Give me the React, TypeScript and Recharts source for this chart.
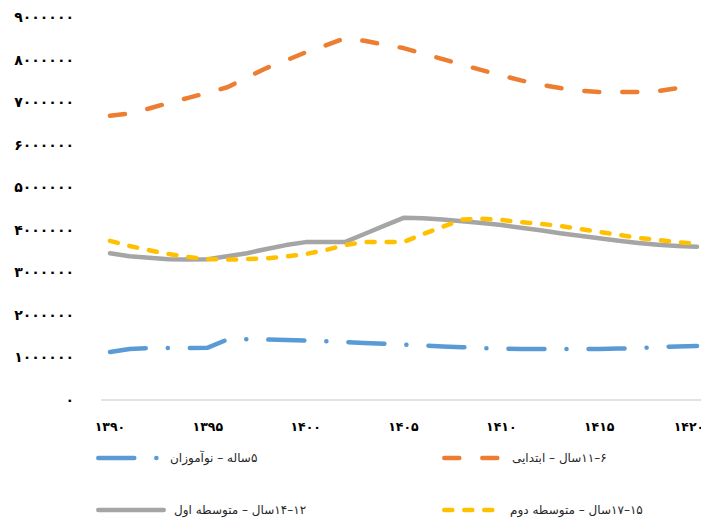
import { LineChart, Line, XAxis, YAxis, Legend } from 'recharts';

// سال‌ها (هجری شمسی)
const years = [
  1390, 1391, 1392, 1393, 1394, 1395, 1396, 1397, 1398, 1399, 1400,
  1401, 1402, 1403, 1404, 1405, 1406, 1407, 1408, 1409, 1410,
  1411, 1412, 1413, 1414, 1415, 1416, 1417, 1418, 1419, 1420,
];

const preschool = [
  1130000, 1200000, 1220000, 1220000, 1220000, 1230000, 1420000, 1430000, 1420000, 1410000, 1400000,
  1380000, 1360000, 1340000, 1320000, 1300000, 1280000, 1260000, 1240000, 1220000, 1210000,
  1200000, 1200000, 1200000, 1200000, 1200000, 1210000, 1220000, 1240000, 1260000, 1270000,
];

const primary = [
  6680000, 6730000, 6850000, 6980000, 7100000, 7220000, 7350000, 7580000, 7800000, 7980000, 8170000,
  8330000, 8500000, 8440000, 8350000, 8270000, 8140000, 8010000, 7880000, 7750000, 7630000,
  7510000, 7410000, 7330000, 7270000, 7240000, 7240000, 7240000, 7260000, 7330000, 7380000,
];

const lowerSecondary = [
  3450000, 3380000, 3340000, 3310000, 3300000, 3310000, 3380000, 3450000, 3550000, 3640000, 3710000,
  3710000, 3710000, 3900000, 4090000, 4280000, 4270000, 4240000, 4200000, 4160000, 4110000,
  4050000, 3990000, 3920000, 3860000, 3800000, 3740000, 3690000, 3650000, 3620000, 3600000,
];

const upperSecondary = [
  3740000, 3620000, 3520000, 3430000, 3360000, 3310000, 3300000, 3310000, 3330000, 3370000, 3430000,
  3520000, 3640000, 3710000, 3710000, 3710000, 3900000, 4070000, 4240000, 4260000, 4230000,
  4180000, 4140000, 4090000, 4020000, 3950000, 3880000, 3810000, 3760000, 3710000, 3670000,
];

const xTicks = [1390, 1395, 1400, 1405, 1410, 1415, 1420];
const yTicks = [0, 1000000, 2000000, 3000000, 4000000, 5000000, 6000000, 7000000, 8000000, 9000000];

const seriesNames = {
  preschool: '۵ساله – نوآموزان',
  primary: '۶–۱۱سال – ابتدایی',
  lowerSecondary: '۱۲–۱۴سال – متوسطه اول',
  upperSecondary: '۱۵–۱۷سال – متوسطه دوم',
};

const rows = years.map((year, i) => ({
  year,
  preschool: preschool[i],
  primary: primary[i],
  lowerSecondary: lowerSecondary[i],
  upperSecondary: upperSecondary[i],
}));

const FONT = '"DejaVu Sans", sans-serif';

const toFa = (v: number | string) =>
  String(v).replace(/\d/g, (d) => '۰۱۲۳۴۵۶۷۸۹'[Number(d)]);

const styles = {
  preschool: { stroke: '#5B9BD5', dash: '36 22 0.1 22' },
  primary: { stroke: '#ED7D31', dash: '15 23' },
  lowerSecondary: { stroke: '#A5A5A5', dash: undefined },
  upperSecondary: { stroke: '#FFC000', dash: '8 12' },
};

// the last year label sits a little inside the plot edge, as in the original
const YearTick = ({ x, y, payload }: any) => {
  const shift = payload.value === 1420 ? -8 : 0;
  return (
    <text
      x={x + shift}
      y={y}
      dy="0.71em"
      textAnchor="middle"
      fill="#000"
      fontSize={12.5}
      fontWeight="bold"
      fontFamily={FONT}
    >
      {toFa(payload.value)}
    </text>
  );
};

function LegendItem({ k, left, top, sample }: { k: keyof typeof styles; left: number; top: number; sample: number }) {
  const s = styles[k];
  return (
    <div style={{ position: 'absolute', left, top, height: 20, display: 'flex', alignItems: 'center' }}>
      <svg width={sample} height={10} style={{ display: 'block' }}>
        <line
          x1={2.3}
          y1={5}
          x2={sample - 2.3}
          y2={5}
          stroke={s.stroke}
          strokeWidth={4.5}
          strokeLinecap="round"
          strokeDasharray={s.dash}
        />
      </svg>
      <span
        style={{
          direction: 'rtl',
          unicodeBidi: 'isolate',
          marginLeft: 8,
          fontFamily: FONT,
          fontSize: 12,
          color: '#262626',
          whiteSpace: 'nowrap',
        }}
      >
        {seriesNames[k]}
      </span>
    </div>
  );
}

function EnrolmentLegend() {
  return (
    <div style={{ position: 'relative', width: 701, height: 71 }}>
      <LegendItem k="preschool" left={88} top={0} sample={66} />
      <LegendItem k="primary" left={434} top={0} sample={62} />
      <LegendItem k="lowerSecondary" left={88} top={52} sample={70} />
      <LegendItem k="upperSecondary" left={434} top={52} sample={60} />
    </div>
  );
}

export default function App() {
  return (
    <LineChart
      width={701}
      height={511}
      data={rows}
      margin={{ top: 9, right: 3, bottom: 0, left: 0 }}
    >
      <XAxis
        dataKey="year"
        type="number"
        domain={[1390, 1420]}
        ticks={xTicks}
        interval={0}
        padding={{ left: 9, right: 9 }}
        axisLine={{ stroke: '#D9D9D9', strokeWidth: 1.5 }}
        tickLine={false}
        tickSize={8}
        tickMargin={14}
        height={48}
        tick={<YearTick />}
      />
      <YAxis
        domain={[0, 9000000]}
        ticks={yTicks}
        interval={0}
        tickFormatter={toFa}
        width={93}
        axisLine={false}
        tickLine={false}
        tickSize={0}
        tickMargin={27}
        tick={{ fill: '#000', fontSize: 14, fontWeight: 'bold', fontFamily: FONT, letterSpacing: 1.8 }}
      />
      <Legend
        verticalAlign="bottom"
        height={71}
        wrapperStyle={{ left: 0, bottom: 0, width: 701 }}
        content={() => <EnrolmentLegend />}
      />
      {(['preschool', 'primary', 'lowerSecondary', 'upperSecondary'] as const).map((k) => (
        <Line
          key={k}
          type="linear"
          dataKey={k}
          name={seriesNames[k]}
          stroke={styles[k].stroke}
          strokeWidth={4.5}
          strokeDasharray={styles[k].dash}
          strokeLinecap="round"
          strokeLinejoin="round"
          dot={false}
          activeDot={false}
          isAnimationActive={false}
        />
      ))}
    </LineChart>
  );
}
